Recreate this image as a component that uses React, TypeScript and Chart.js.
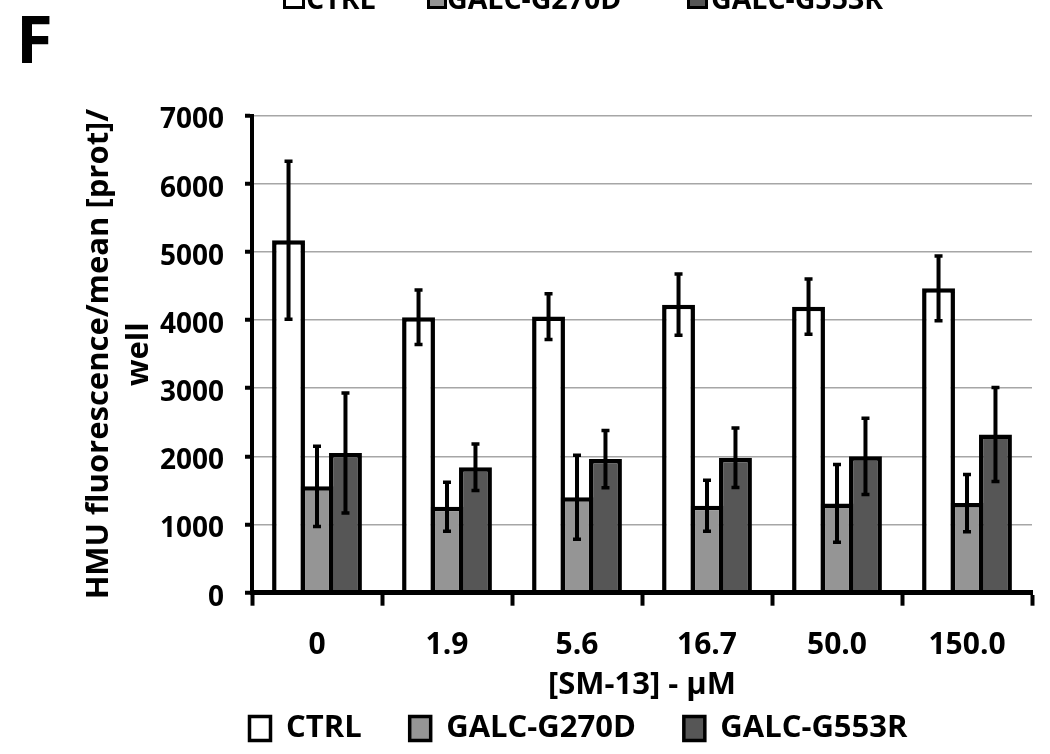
import React, { useEffect, useRef } from "react";
import { Chart, registerables } from "chart.js";

Chart.register(...registerables);

const FONT = "'Open Sans', 'DejaVu Sans', sans-serif";

// SM-13 concentrations (µM) on the x axis
const concentrations = ["0", "1.9", "5.6", "16.7", "50.0", "150.0"];
const seriesLabels = ["CTRL", "GALC-G270D", "GALC-G553R"];
const seriesColors = ["#ffffff", "#959595", "#565656"];

// Mean HMU fluorescence per well and its error (±)
const ctrlMean = [5170, 4040, 4050, 4225, 4195, 4465];
const ctrlErr = [1160, 400, 335, 450, 405, 475];
const g270dMean = [1560, 1260, 1400, 1275, 1310, 1315];
const g270dErr = [590, 360, 615, 375, 570, 420];
const g553rMean = [2050, 1840, 1960, 1980, 2000, 2320];
const g553rErr = [880, 340, 420, 435, 560, 690];

const yMin = 0;
const yMax = 7000;
const yStep = 1000;
const yTitle = ["HMU fluorescence/mean [prot]/", "well"];
const xTitle = "[SM-13] - μM";

const seriesMeans = [ctrlMean, g270dMean, g553rMean];
const seriesErrors = [ctrlErr, g270dErr, g553rErr];

// Vertical error bars with short caps, drawn over the bars
const errorBars = {
  id: "errorBars",
  afterDatasetsDraw(chart: any) {
    const { ctx } = chart;
    const yScale = chart.scales.y;
    chart.data.datasets.forEach((ds: any, di: number) => {
      const meta = chart.getDatasetMeta(di);
      const errs = seriesErrors[di];
      meta.data.forEach((bar: any, i: number) => {
        const v = ds.data[i] as number;
        const e = errs[i];
        const x = bar.x;
        const yHi = yScale.getPixelForValue(v + e);
        const yLo = yScale.getPixelForValue(v - e);
        ctx.save();
        ctx.strokeStyle = "#000";
        ctx.lineWidth = 4;
        ctx.beginPath();
        ctx.moveTo(x, yHi);
        ctx.lineTo(x, yLo);
        ctx.stroke();
        ctx.lineWidth = 3.5;
        ctx.beginPath();
        ctx.moveTo(x - 4, yHi);
        ctx.lineTo(x + 4, yHi);
        ctx.moveTo(x - 4, yLo);
        ctx.lineTo(x + 4, yLo);
        ctx.stroke();
        ctx.restore();
      });
    });
  },
};

// Nudge the bottom legend to the right so it starts under the y axis
const legendShift = {
  id: "legendShift",
  afterLayout(chart: any) {
    const lg = chart.legend;
    if (lg) {
      lg.left += 24;
      lg.right += 24;
    }
  },
};

// Legend strip carried over from the panel above (only its lower edge shows)
const carriedLegend = [
  { box: 283, boxW: 22, text: 306, label: seriesLabels[0], color: seriesColors[0] },
  { box: 427, boxW: 20, text: 447, label: seriesLabels[1], color: seriesColors[1] },
  { box: 687, boxW: 21, text: 711, label: seriesLabels[2], color: seriesColors[2] },
];

export default function App() {
  const canvasRef = useRef<HTMLCanvasElement>(null);

  useEffect(() => {
    const canvas = canvasRef.current;
    if (!canvas) return;
    Chart.defaults.font.family = FONT;
    Chart.defaults.color = "#000";

    const chart = new Chart(canvas, {
      type: "bar",
      data: {
        labels: concentrations,
        datasets: seriesLabels.map((label, i) => ({
          label,
          data: seriesMeans[i],
          backgroundColor: seriesColors[i],
          borderColor: "#000",
          borderWidth: 4.5,
        })),
      },
      options: {
        responsive: false,
        animation: false,
        devicePixelRatio: 1,
        layout: { padding: { top: 115.5, left: 77, right: 18, bottom: 0 } },
        datasets: { bar: { categoryPercentage: 0.657, barPercentage: 1.155 } },
        plugins: {
          tooltip: { enabled: false },
          legend: {
            position: "bottom",
            labels: {
              font: { size: 31, weight: "bold", family: FONT },
              color: "#000",
              boxWidth: 21,
              boxHeight: 24,
              padding: 48,
              generateLabels: (c: any) =>
                Chart.defaults.plugins.legend.labels
                  .generateLabels(c)
                  .map((l: any) => ({ ...l, lineWidth: 3.5, strokeStyle: "#000" })),
            },
          },
        },
        scales: {
          x: {
            grid: {
              display: true,
              drawOnChartArea: false,
              drawTicks: true,
              tickLength: 13,
              tickWidth: 4,
              tickColor: "#000",
            },
            border: { display: true, color: "#000", width: 5, z: 1 },
            ticks: {
              font: { size: 30, weight: "bold", family: FONT },
              color: "#000",
              padding: 22,
              maxRotation: 0,
              autoSkip: false,
            },
            title: {
              display: true,
              text: xTitle,
              color: "#000",
              font: { size: 31, weight: "bold", family: FONT, lineHeight: 1.2 },
              padding: { top: 0, bottom: -39 },
            },
            afterFit: (s: any) => {
              s.height = 72.3;
            },
          },
          y: {
            min: yMin,
            max: yMax,
            ticks: {
              stepSize: yStep,
              font: { size: 28, weight: "bold", family: FONT },
              color: "#000",
              padding: 21,
              labelOffset: 5,
              callback: (v: any) => String(v),
            },
            grid: {
              color: (c: any) => (c.tick && c.tick.value === 0 ? "rgba(0,0,0,0)" : "#a6a6a6"),
              lineWidth: 1.5,
              drawTicks: true,
              tickLength: 7,
              tickWidth: 4,
              tickColor: "#000",
            },
            border: { display: true, color: "#000", width: 4, z: 1 },
            title: {
              display: true,
              text: yTitle,
              color: "#000",
              font: { size: 31, weight: "bold", family: FONT, lineHeight: 1.3 },
              padding: { top: 2, bottom: 0 },
            },
            afterFit: (s: any) => {
              s.width = 175;
            },
          },
        },
      },
      plugins: [errorBars, legendShift],
    } as any);

    return () => chart.destroy();
  }, []);

  return (
    <div
      style={{
        position: "fixed",
        left: 0,
        top: 0,
        width: 1050,
        height: 754,
        overflow: "hidden",
        background: "#fff",
      }}
    >
      <canvas
        ref={canvasRef}
        width={1050}
        height={754}
        style={{ position: "absolute", left: 0, top: 0, width: 1050, height: 754 }}
      />
      <div
        style={{
          position: "absolute",
          left: 16,
          top: 3.5,
          fontFamily: FONT,
          fontWeight: "bold",
          fontSize: 67,
          lineHeight: 1,
          color: "#000",
        }}
      >
        F
      </div>
      {carriedLegend.map((it) => (
        <React.Fragment key={it.label}>
          <div
            style={{
              position: "absolute",
              left: it.box,
              top: -16,
              width: it.boxW - 6,
              height: 19,
              border: "3px solid #000",
              background: it.color,
            }}
          />
          <div
            style={{
              position: "absolute",
              left: it.text,
              top: -16.4,
              fontFamily: FONT,
              fontWeight: "bold",
              fontSize: 28.5,
              lineHeight: 1,
              color: "#000",
              whiteSpace: "nowrap",
            }}
          >
            {it.label}
          </div>
        </React.Fragment>
      ))}
    </div>
  );
}
